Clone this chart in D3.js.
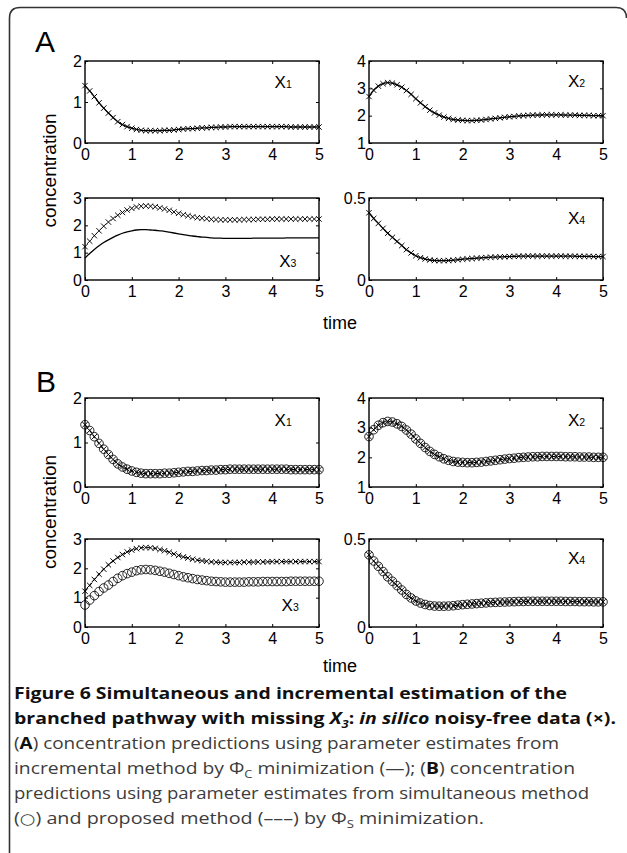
<!DOCTYPE html>
<html><head><meta charset="utf-8">
<script src="https://cdn.jsdelivr.net/npm/d3@7"></script>
<style>html,body{margin:0;padding:0;background:#fff;} svg{display:block;}</style>
</head><body>
<svg id="chart" width="627" height="853"></svg>
<script>
// ---------- data ----------
const times = [0,0.1,0.2,0.3,0.4,0.5,0.6,0.7,0.8,0.9,1.0,1.1,1.2,1.3,1.4,1.5,1.6,1.7,1.8,1.9,2.0,
  2.1,2.2,2.3,2.4,2.5,2.6,2.7,2.8,2.9,3.0,3.1,3.2,3.3,3.4,3.5,3.6,3.7,3.8,3.9,4.0,
  4.1,4.2,4.3,4.4,4.5,4.6,4.7,4.8,4.9,5.0];
const x1Data = [1.40,1.27,1.13,0.98,0.85,0.73,0.62,0.52,0.45,0.40,0.36,
  0.33,0.31,0.30,0.30,0.30,0.30,0.31,0.31,0.32,0.33,
  0.34,0.35,0.35,0.36,0.37,0.37,0.38,0.38,0.39,0.39,
  0.40,0.40,0.40,0.40,0.40,0.40,0.40,0.40,0.40,0.40,
  0.40,0.40,0.40,0.39,0.39,0.39,0.39,0.39,0.39,0.39];
const x2Data = [2.70,2.93,3.08,3.17,3.21,3.19,3.13,3.04,2.92,2.78,2.62,
  2.47,2.33,2.20,2.10,2.02,1.95,1.90,1.86,1.84,1.83,
  1.82,1.82,1.83,1.84,1.86,1.88,1.90,1.92,1.94,1.96,
  1.97,1.99,2.00,2.01,2.02,2.02,2.03,2.03,2.03,2.03,
  2.03,2.02,2.02,2.02,2.01,2.01,2.01,2.00,2.00,2.00];
const x3Data = [1.22,1.42,1.62,1.80,1.97,2.12,2.25,2.37,2.47,2.56,2.62,
  2.67,2.70,2.71,2.70,2.68,2.64,2.60,2.55,2.49,2.44,
  2.39,2.35,2.31,2.28,2.26,2.24,2.22,2.21,2.20,2.20,
  2.20,2.20,2.20,2.21,2.21,2.21,2.22,2.22,2.22,2.23,
  2.23,2.23,2.23,2.23,2.23,2.23,2.23,2.23,2.23,2.23];
const x4Data = [0.410,0.375,0.345,0.315,0.285,0.260,0.235,0.210,0.185,0.165,0.148,
  0.136,0.128,0.122,0.119,0.118,0.118,0.119,0.121,0.124,0.127,
  0.129,0.131,0.133,0.135,0.137,0.139,0.140,0.141,0.142,0.143,
  0.144,0.145,0.145,0.146,0.146,0.146,0.146,0.146,0.146,0.146,
  0.146,0.145,0.145,0.145,0.144,0.144,0.144,0.143,0.143,0.143];
// incremental (Phi_C) prediction of X3, panel A
const x3Incremental = [0.80,0.97,1.12,1.25,1.37,1.47,1.56,1.64,1.71,1.76,1.80,
  1.83,1.84,1.84,1.83,1.82,1.80,1.78,1.75,1.72,1.69,
  1.66,1.63,1.61,1.59,1.57,1.56,1.54,1.53,1.53,1.52,
  1.52,1.52,1.52,1.52,1.52,1.53,1.53,1.53,1.53,1.53,
  1.53,1.53,1.54,1.54,1.54,1.54,1.54,1.54,1.54,1.54];
// simultaneous method prediction of X3, panel B (circles)
const x3Simultaneous = [0.75,0.92,1.07,1.21,1.33,1.43,1.55,1.66,1.75,1.82,1.87,
  1.92,1.95,1.96,1.95,1.93,1.90,1.87,1.83,1.79,1.75,
  1.71,1.68,1.65,1.62,1.60,1.58,1.56,1.55,1.54,1.53,
  1.53,1.53,1.53,1.53,1.54,1.54,1.54,1.55,1.55,1.55,
  1.55,1.55,1.55,1.56,1.56,1.56,1.56,1.56,1.56,1.56];
const xTicks = [0,1,2,3,4,5];
const yTicksX1 = [0,1,2];
const yTicksX2 = [1,2,3,4];
const yTicksX3 = [0,1,2,3];
const yTicksX4 = [0,0.5];
const varNames = ["1","2","3","4"];

// ---------- layout ----------
const panels = [
  {box:[85,319,61,143],  dom:[0,2],   ticks:yTicksX1, v:0, lab:[0.81,0.33], data:x1Data, line:x1Data, circ:null, dash:false},
  {box:[369,603,61,143], dom:[1,4],   ticks:yTicksX2, v:1, lab:[0.85,0.32], data:x2Data, line:x2Data, circ:null, dash:false},
  {box:[85,319,198,280], dom:[0,3],   ticks:yTicksX3, v:2, lab:[0.83,0.84], data:x3Data, line:x3Incremental, circ:null, dash:false},
  {box:[369,603,198,280],dom:[0,0.5], ticks:yTicksX4, v:3, lab:[0.85,0.32], data:x4Data, line:x4Data, circ:null, dash:false},
  {box:[85,319,398,487], dom:[0,2],   ticks:yTicksX1, v:0, lab:[0.81,0.32], data:x1Data, line:x1Data, circ:x1Data, dash:true},
  {box:[369,603,398,487],dom:[1,4],   ticks:yTicksX2, v:1, lab:[0.85,0.31], data:x2Data, line:x2Data, circ:x2Data, dash:true},
  {box:[85,319,539,627], dom:[0,3],   ticks:yTicksX3, v:2, lab:[0.84,0.82], data:x3Data, line:x3Data, circ:x3Simultaneous, dash:true},
  {box:[369,603,539,627],dom:[0,0.5], ticks:yTicksX4, v:3, lab:[0.85,0.28], data:x4Data, line:x4Data, circ:x4Data, dash:true}
];

const svg = d3.select("#chart");
const FONT = "'Liberation Sans', Arial, Helvetica, sans-serif";

// outer frame
svg.append("path")
  .attr("d","M9.5,853 L9.5,18 Q9.5,7.5 20,7.5 L616,7.5 Q626.5,7.5 626.5,18")
  .attr("fill","none").attr("stroke","#333").attr("stroke-width",1.6);

panels.forEach(p => {
  const [x0,x1,y0,y1] = p.box;
  const x = d3.scaleLinear().domain([0,5]).range([x0,x1]);
  const y = d3.scaleLinear().domain(p.dom).range([y1,y0]);
  const g = svg.append("g");
  const fmt = d => String(d);

  const style = sel => {
    sel.select(".domain").remove();
    sel.attr("font-family",FONT).attr("font-size",16);
    sel.selectAll("line").attr("stroke","#000").attr("stroke-width",1);
    sel.selectAll("text").attr("fill","#000");
  };
  g.append("g").attr("transform",`translate(0,${y1})`)
    .call(d3.axisBottom(x).tickValues(xTicks).tickFormat(fmt).tickSize(-3).tickPadding(6)).call(style);
  g.append("g").attr("transform",`translate(0,${y0})`)
    .call(d3.axisTop(x).tickValues(xTicks).tickFormat("").tickSize(-3)).call(style);
  g.append("g").attr("transform",`translate(${x0},0)`)
    .call(d3.axisLeft(y).tickValues(p.ticks).tickFormat(fmt).tickSize(-3).tickPadding(3)).call(style);
  g.append("g").attr("transform",`translate(${x1},0)`)
    .call(d3.axisRight(y).tickValues(p.ticks).tickFormat("").tickSize(-3)).call(style);

  const clipId = "c"+x0+"_"+y0;
  g.append("clipPath").attr("id",clipId).append("rect")
    .attr("x",x0-6).attr("y",y0).attr("width",x1-x0+12).attr("height",y1-y0);
  const plot = g.append("g").attr("clip-path",`url(#${clipId})`);

  if (p.circ) {
    plot.selectAll("circle.sim").data(p.circ).join("circle")
      .attr("cx",(d,i)=>x(times[i])).attr("cy",d=>y(d)).attr("r",4.3)
      .attr("fill","none").attr("stroke","#000").attr("stroke-width",0.85);
  }
  const cs = 2.7;
  plot.selectAll("path.cross").data(p.data).join("path")
    .attr("d",(d,i)=>{const cx=x(times[i]), cy=y(d);
      return `M${cx-cs},${cy-cs}L${cx+cs},${cy+cs}M${cx-cs},${cy+cs}L${cx+cs},${cy-cs}`;})
    .attr("stroke","#000").attr("stroke-width",0.95).attr("fill","none");
  const lineGen = d3.line().x((d,i)=>x(times[i])).y(d=>y(d)).curve(d3.curveMonotoneX);
  plot.append("path").datum(p.line).attr("d",lineGen)
    .attr("fill","none").attr("stroke","#000").attr("stroke-width",p.dash?1.1:1.3)
    .attr("stroke-dasharray",p.dash?"4,2.5":null);

  g.append("rect").attr("x",x0).attr("y",y0).attr("width",x1-x0).attr("height",y1-y0)
    .attr("fill","none").attr("stroke","#000").attr("stroke-width",1.4);

  const t = g.append("text").attr("font-family",FONT).attr("fill","#000")
    .attr("x",x0+p.lab[0]*(x1-x0)).attr("y",y0+p.lab[1]*(y1-y0));
  t.append("tspan").attr("font-size",17).text("X");
  t.append("tspan").attr("font-size",10.5).text(varNames[p.v]);
});

[["A",35,52],["B",36,392]].forEach(([s,xx,yy])=>{
  svg.append("text").attr("x",xx).attr("y",yy).attr("font-family",FONT)
    .attr("font-size",30).attr("fill","#000").text(s);
});
[[170.5],[512]].forEach(([cy])=>{
  svg.append("text").attr("transform",`translate(56,${cy}) rotate(-90)`)
    .attr("text-anchor","middle").attr("font-family",FONT).attr("font-size",19)
    .attr("fill","#000").text("concentration");
});
[329,672].forEach(yy=>{
  svg.append("text").attr("x",340).attr("y",yy).attr("text-anchor","middle")
    .attr("font-family",FONT).attr("font-size",18).attr("fill","#000").text("time");
});

// ---------- caption ----------
const CF = "'Open Sans','Noto Sans',sans-serif";
const captionLines = [
  {y:699, end:567, bold:true, parts:[{t:"Figure 6 Simultaneous and incremental estimation of the"}]},
  {y:724, end:616, bold:true, parts:[{t:"branched pathway with missing "},{t:"X",i:1},{t:"3",i:1,sub:1},{t:": "},{t:"in silico",i:1},{t:" noisy-free data (×)."}]},
  {y:749, end:559, parts:[{t:"("},{t:"A",b:1},{t:") concentration predictions using parameter estimates from"}]},
  {y:774, end:575, parts:[{t:"incremental method by Φ"},{t:"C",sub:1},{t:" minimization (—); ("},{t:"B",b:1},{t:") concentration"}]},
  {y:799, end:589, parts:[{t:"predictions using parameter estimates from simultaneous method"}]},
  {y:824, end:484, parts:[{t:"("},{t:"○",sym:1},{t:") and proposed method (–––) by Φ"},{t:"S",sub:1},{t:" minimization."}]}
];
captionLines.forEach(L=>{
  const t = svg.append("text").attr("x",14).attr("y",L.y).attr("font-family",CF)
    .attr("font-size",16.5).attr("fill",L.bold?"#111":"#3c3c3c")
    .attr("font-weight",L.bold?700:400)
    .attr("textLength",L.end-14).attr("lengthAdjust","spacingAndGlyphs");
  let shifted = false;
  L.parts.forEach(pt=>{
    const s = t.append("tspan").text(pt.t);
    if (pt.i) s.attr("font-style","italic");
    if (pt.b) s.attr("font-weight",700).attr("fill","#111");
    if (pt.sym) s.attr("font-family","'DejaVu Sans',sans-serif").attr("font-size",15);
    if (pt.sub) { s.attr("font-size",11).attr("dy",4); shifted = true; }
    else if (shifted) { s.attr("dy",-4); shifted = false; }
  });
});
</script>
</body></html>
